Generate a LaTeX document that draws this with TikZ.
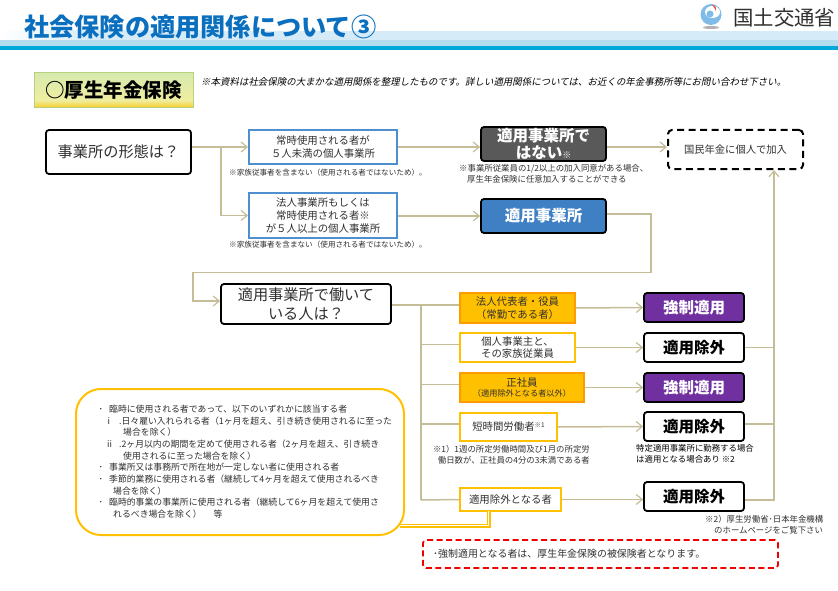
\documentclass[tikz,border=0pt]{standalone}
\usepackage{fontspec}
\usepackage{xcolor}
\setmainfont{Noto Sans CJK JP}
\newfontfamily\slantfont[FakeSlant=0.2]{Noto Sans CJK JP}
\usetikzlibrary{arrows.meta, positioning}
\definecolor{flowtan}{HTML}{C4BD97}
\definecolor{inkgray}{HTML}{303030}
\definecolor{titleblue}{HTML}{0A6FBE}
\definecolor{bandpale}{HTML}{D5EBF7}
\definecolor{bandmid}{HTML}{B5DDEE}
\definecolor{bandstrong}{HTML}{00A9D9}
\definecolor{framegreen}{HTML}{B8D080}
\definecolor{framblue}{HTML}{4F8FD0}
\definecolor{fillblue}{HTML}{3F80C4}
\definecolor{darkfill}{HTML}{595959}
\definecolor{amber}{HTML}{FFC000}
\definecolor{amberedge}{HTML}{FF9A00}
\definecolor{purplefill}{HTML}{7030A0}
\definecolor{alertred}{HTML}{F00000}
\definecolor{secyellow}{HTML}{F9CB1E}
\definecolor{secmid}{HTML}{EFEE9F}
\definecolor{sectop}{HTML}{D7EAAE}
\definecolor{logoblue}{HTML}{7FBCE8}
\pgfdeclareverticalshading{sectionfill}{100bp}{color(0bp)=(secyellow); color(25bp)=(secyellow); color(36bp)=(secmid); color(75bp)=(sectop); color(100bp)=(sectop)}
\newcommand{\sized}[2]{\fontsize{#1}{#2}\selectfont}
\newcommand{\listdot}{\makebox[11.5pt][l]{\hspace*{1pt}･}}
\tikzset{
  flowline/.style={draw=flowtan, line width=1.5pt},
  flowarrow/.style={flowline, -{Straight Barb[length=6pt,width=10pt,line width=1.2pt]}},
  askbox/.style={draw=black, line width=1.8pt, rounded corners=3pt, fill=white, text=inkgray, align=center, inner sep=0pt, font=\sized{15.2}{18.5}},
  framebox/.style={draw=framblue, line width=2pt, fill=white, text=inkgray, align=center, inner sep=0pt, font=\sized{10.4}{12.6}},
  verdict/.style={draw=black, line width=1.8pt, rounded corners=3pt, align=center, inner sep=0pt, font=\bfseries\sized{15.5}{17.5}},
  staffstrong/.style={draw=amberedge, line width=2pt, fill=amber, text=inkgray, align=center, inner sep=0pt, font=\sized{10.4}{12.6}},
  staffplain/.style={draw=amber, line width=2pt, fill=white, text=inkgray, align=center, inner sep=0pt, font=\sized{10.4}{12.6}},
  smallnote/.style={text=inkgray, align=left, inner sep=0pt, font=\sized{7.6}{10}},
  footnote8/.style={text=inkgray, align=left, inner sep=0pt, font=\sized{8.4}{10.6}}
}

\begin{document}
\begin{tikzpicture}[x=1pt, y=-1pt]
    \useasboundingbox (0,0) rectangle (838,591);

    % header band
    \shade[left color=white, right color=bandpale, middle color=bandpale] (0,31) rectangle (200,46);
    \fill[bandpale] (100,31) rectangle (838,40);
    \fill[bandmid] (0,40) rectangle (838,46);
    \fill[bandstrong] (0,46) rectangle (838,50);
    \node[anchor=west, inner sep=0pt, text=titleblue, font=\bfseries\sized{25.2}{28}] (title) at (24,27) {社会保険の適用関係について③};

    % logo
    \fill[white] (695,0) rectangle (838,31);
    \fill[gray!60] (711,27.5) ellipse (8 and 1.5);
    \fill[logoblue] (711,14.5) circle (10.5);
    \fill[white] (712.5,12) ellipse (7.5 and 6);
    \fill[logoblue] (710,14) circle (3.5);
    \fill[red!75] (712,4.5) arc (-80:25:5) -- (715,9) -- cycle;
    \node[anchor=west, inner sep=0pt, text=inkgray, font=\sized{20.4}{24}] (ministry) at (733,18) {国土交通省};

    % section label and remark
    \node[draw=framegreen, line width=1pt, shading=sectionfill, inner sep=0pt, minimum width=159pt, minimum height=35pt, font=\bfseries\sized{19.5}{22}] (section) at (113.5,90.5) {○厚生年金保険};
    \node[anchor=west, inner sep=0pt, text=black, font=\slantfont\sized{9.46}{11}] (remark) at (201,82) {※本資料は社会保険の大まかな適用関係を整理したものです。詳しい適用関係については、お近くの年金事務所等にお問い合わせ下さい。};

    % first question
    \node[askbox, minimum width=145pt, minimum height=44pt] (form) at (118.5,152) {事業所の形態は？};
    \node[framebox, minimum width=148pt, minimum height=34pt] (small) at (323,147) {常時使用される者が\\５人未満の個人事業所};
    \node[framebox, minimum width=148pt, minimum height=45pt] (large) at (323,215.5) {法人事業所もしくは\\常時使用される者※\\が５人以上の個人事業所};
    \node[smallnote, anchor=west] (smallnote1) at (229,173) {※家族従事者を含まない（使用される者ではないため）。};
    \node[smallnote, anchor=west] (largenote1) at (229,245) {※家族従事者を含まない（使用される者ではないため）。};
    \node[verdict, fill=darkfill, text=white, minimum width=125pt, minimum height=34pt] (notcovered) at (543.5,144) {適用事業所で\\はない{\sized{9}{10}※}};
    \node[verdict, fill=fillblue, text=white, minimum width=125pt, minimum height=34pt] (covered) at (543.5,216) {適用事業所};
    \node[footnote8, anchor=north west] (optional) at (459,164.5) {※事業所従業員の1/2以上の加入同意がある場合、\\\hspace*{8pt}厚生年金保険に任意加入することができる};
    \node[draw=black, line width=2pt, dash pattern=on 7pt off 4.5pt, rounded corners=4pt, text=inkgray, inner sep=0pt, minimum width=135pt, minimum height=39pt, font=\sized{10.3}{12}] (national) at (735.5,149.5) {国民年金に個人で加入};

    % second question
    \node[askbox, minimum width=170pt, minimum height=40pt] (worker) at (306,304) {適用事業所で働いて\\いる人は？};
    \node[staffstrong, minimum width=115pt, minimum height=30pt] (officer) at (517.5,308) {法人代表者・役員\\（常勤である者）};
    \node[staffplain, minimum width=115pt, minimum height=29pt] (owner) at (517.5,347.5) {個人事業主と、\\その家族従業員};
    \node[staffstrong, minimum width=124pt, minimum height=29pt] (regular) at (522,387.5) {正社員\\[-2pt]{\sized{8.2}{10}（適用除外となる者以外）}};
    \node[staffplain, minimum width=97pt, minimum height=28pt] (parttime) at (508.5,427) {短時間労働者\raisebox{3pt}{\sized{6.5}{8}※1}};
    \node[staffplain, minimum width=101pt, minimum height=23pt] (excluded) at (510.5,499.5) {適用除外となる者};
    \node[verdict, fill=purplefill, text=white, minimum width=100pt, minimum height=29pt] (resultA) at (694,307.5) {強制適用};
    \node[verdict, fill=white, minimum width=100pt, minimum height=29pt] (resultB) at (694,347.5) {適用除外};
    \node[verdict, fill=purplefill, text=white, minimum width=100pt, minimum height=29pt] (resultC) at (694,387.5) {強制適用};
    \node[verdict, fill=white, minimum width=100pt, minimum height=29pt] (resultD) at (694,426.5) {適用除外};
    \node[verdict, fill=white, minimum width=100pt, minimum height=29pt] (resultE) at (694,496.5) {適用除外};

    % notes round the lower boxes
    \node[footnote8, anchor=north east, align=right] (hours) at (590,445.5) {※1）1週の所定労働時間及び1月の所定労\\働日数が、正社員の4分の3未満である者};
    \node[text=black, align=left, inner sep=0pt, anchor=north west, font=\sized{8.4}{10.4}] (specific) at (636,444.5) {特定適用事業所に勤務する場合\\は適用となる場合あり ※2};
    \node[footnote8, anchor=north west] (ministrypage) at (705,515.5) {※2）厚生労働省･日本年金機構\\\hspace*{9pt}のホームページをご覧下さい};

    % callout and red remark
    \node[draw=amber, line width=2pt, rounded corners=25pt, fill=white, minimum width=328pt, minimum height=146pt, inner sep=0pt] (callout) at (240,462) {};
    \node[anchor=north west, text=inkgray, align=left, inner sep=0pt, font=\sized{8.85}{11.65}] (calloutlist) at (97.5,405) {\listdot 臨時に使用される者であって、以下のいずれかに該当する者\\
\hspace*{10pt}i\hspace*{9pt}.日々雇い入れられる者（1ヶ月を超え、引き続き使用されるに至った\\
\hspace*{25.5pt}場合を除く）\\
\hspace*{9.5pt}ii\hspace*{7pt}.2ヶ月以内の期間を定めて使用される者（2ヶ月を超え、引き続き\\
\hspace*{25.5pt}使用されるに至った場合を除く）\\
\listdot 事業所又は事務所で所在地が一定しない者に使用される者\\
\listdot 季節的業務に使用される者（継続して4ヶ月を超えて使用されるべき\\
\hspace*{15.5pt}場合を除く）\\
\listdot 臨時的事業の事業所に使用される者（継続して6ヶ月を超えて使用さ\\
\hspace*{15.5pt}れるべき場合を除く）\hspace*{12pt}等};
    \node[draw=alertred, line width=1.8pt, dash pattern=on 6pt off 3.5pt, rounded corners=3pt, text=inkgray, inner sep=0pt, minimum width=355pt, minimum height=28pt] (redbox) at (600.5,554) {};
    \node[anchor=west, text=inkgray, inner sep=0pt, font=\sized{9.95}{11}] (redtext) at (433,554) {･強制適用となる者は、厚生年金保険の被保険者となります。};

    % connectors
    \coordinate (formfork) at (221,147);
    \coordinate (looptop) at (651,272.5);
    \coordinate (loopleft) at (193,272.5);
    \coordinate (trunktop) at (421,305);
    \coordinate (trunkbot) at (421,500);
    \coordinate (risebot) at (774,500);
    \coordinate (linkstart) at (488.5,511);
    \coordinate (linkbend) at (488.5,525.5);
    \coordinate (linkend) at (400,525.5);

    \draw[flowarrow] (form.east |- small.west) -- (small.west);
    \draw[flowarrow] (formfork) |- (large.west);
    \draw[flowarrow] (small.east) -- (small.east -| notcovered.west);
    \draw[flowarrow] (large.east |- covered.west) -- (covered.west);
    \draw[flowarrow] (notcovered.east |- small.east) -- (small.east -| national.west);
    \draw[flowarrow] ([yshift=2pt]covered.east) -| (looptop) -- (loopleft) |- ([yshift=3pt]worker.west);

    \draw[flowline] (trunktop -| worker.east) -- (trunktop);
    \draw[flowline] (trunktop) -- (trunkbot);
    \foreach \staffnode/\resultnode in {officer/resultA, owner/resultB, regular/resultC, parttime/resultD} {
      \draw[flowline] ([yshift=3pt]\staffnode.west -| trunktop) -- ([yshift=3pt]\staffnode.west);
      \draw[flowarrow] (\staffnode.east) -- (\resultnode.west);
    }
    \draw[flowline] (trunkbot) -- (excluded.west);
    \draw[flowarrow] (excluded.east) -- (excluded.east -| resultE.west);

    \draw[flowline] (resultB.east) -- (resultB.east -| risebot);
    \draw[flowline] ([yshift=2.5pt]resultD.east) -- ([yshift=2.5pt]resultD.east -| risebot);
    \draw[flowarrow] (resultE.east |- risebot) -- (risebot) -- (risebot |- national.south);

    \draw[draw=amber, line width=4pt] (linkstart) -- (linkbend) -- (linkend);
    \draw[draw=white, line width=1.3pt] (linkstart) -- (linkbend) -- (linkend);
\end{tikzpicture}
\end{document}
